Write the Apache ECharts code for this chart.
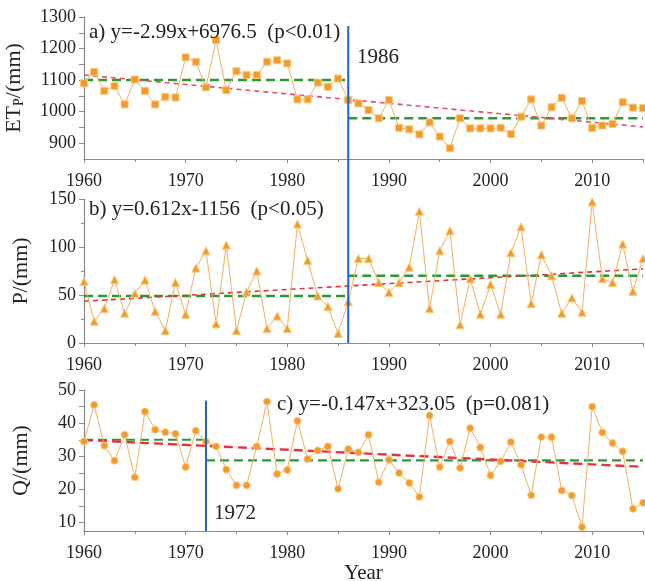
<!DOCTYPE html>
<html>
<head>
<meta charset="utf-8">
<script src="https://cdn.jsdelivr.net/npm/echarts@6/dist/echarts.min.js"></script>
<style>
html, body { margin: 0; padding: 0; background: #fff; }
#main { width: 645px; height: 581px; }
</style>
</head>
<body>
<div id="main"></div>
<script>
// years
var years = [1960,1961,1962,1963,1964,1965,1966,1967,1968,1969,
             1970,1971,1972,1973,1974,1975,1976,1977,1978,1979,
             1980,1981,1982,1983,1984,1985,1986,1987,1988,1989,
             1990,1991,1992,1993,1994,1995,1996,1997,1998,1999,
             2000,2001,2002,2003,2004,2005,2006,2007,2008,2009,
             2010,2011,2012,2013,2014,2015];

// a) ETp
var etp = [1090,1126,1066,1081,1023,1102,1066,1023,1047,1045,
           1172,1158,1077,1227,1068,1128,1116,1116,1158,1163,
           1153,1039,1039,1092,1079,1105,1037,1026,1005,979,
           1037,949,944,928,966,921,884,979,947,947,
           947,949,929,984,1039,956,1014,1044,979,1034,
           948,956,961,1030,1013,1011];
// b) P
var prec = [64,22.6,36,66,31,51.5,65.5,33,13,63,
            30,78,96,20,102,13,53,75,15,28,
            15,124,86,49,38,10,43,88,88,63,
            52.6,63,79,137,36,96,117,19,67,30,
            61,30,94,121,41,92,70,31,47,32,
            147,67,63,103,54,88];
// c) Q
var runoff = [34.5,45.5,33.2,28.7,36.5,23.7,43.5,38,37.3,36.8,
              26.8,37.7,34.5,33,26,21.3,21.3,33,46.5,24.7,
              25.9,40.7,29.2,31.8,33,20.2,32.2,31.2,36.5,22.2,
              29,25,22,17.8,42.3,26.8,34.5,26.5,38.5,32.7,
              24.3,28.5,34.3,27.5,18.3,35.8,35.8,19.7,18.2,8.7,
              45,37.2,34,31.5,14.2,16];

// change points and sub-period means
var breakA = 1986, meanA = [1100, 979];
var breakB = 1986, meanB = [49, 70];
var breakC = 1972, meanC = [35, 28.8];
// linear trends [slope, intercept]
var trendA = [-2.99, 6976.5];
var trendB = [0.612, -1156];
var trendC = [-0.147, 323.05];
var blueC = [7.5, 46.8];

var xFrom = 1960, xTo = 2015;
var fontF = "Liberation Serif";

function pairs(ys) {
    var out = [];
    for (var i = 0; i < years.length; i++) out.push([years[i], ys[i]]);
    return out;
}
function trendLine(t) {
    return [[xFrom, t[0] * xFrom + t[1]], [xTo, t[0] * xTo + t[1]]];
}
function meanLine(br, m) {
    return [[xFrom, m[0]], [br, m[0]], [br, null], [br, m[1]], [xTo, m[1]]];
}
function plain(v) { return String(v); }

var axisColor = '#8a8a8a';
function xAx(idx, showName) {
    return {
        type: 'value', gridIndex: idx, min: xFrom, max: xTo, interval: 10,
        axisLine: { lineStyle: { color: axisColor, width: 1.2 } },
        axisTick: { length: 4, lineStyle: { color: axisColor } },
        minorTick: { show: true, splitNumber: 2, length: 3, lineStyle: { color: axisColor } },
        splitLine: { show: false },
        axisLabel: { showMaxLabel: false, margin: 13, color: '#222', fontSize: 18, fontFamily: fontF, formatter: plain },
        name: showName ? 'Year' : '', nameLocation: 'middle', nameGap: 31,
        nameTextStyle: { color: '#222', fontSize: 21, fontFamily: fontF }
    };
}
function yAx(idx, cfg) {
    var o = {
        type: 'value', gridIndex: idx, min: cfg.min, max: cfg.max,
        axisLine: { show: true, lineStyle: { color: axisColor, width: 1.2 } },
        axisTick: { show: true, length: 5, lineStyle: { color: axisColor } },
        splitLine: { show: false },
        axisLabel: { margin: 8, color: '#222', fontSize: 18, fontFamily: fontF, formatter: plain },
        name: cfg.name, nameLocation: 'middle', nameRotate: 90, nameGap: cfg.gap,
        nameTextStyle: { color: '#222', fontSize: 22, fontFamily: fontF, rich: cfg.rich || {} }
    };
    if (cfg.labels) {
        o.axisLabel.customValues = cfg.labels;
        o.axisTick.customValues = cfg.ticks;
    } else {
        o.interval = cfg.interval;
        o.minorTick = { show: true, splitNumber: 2, length: 3, lineStyle: { color: axisColor } };
    }
    return o;
}

var orange = '#f39a2c';
function dataSeries(idx, ys, symbol, size) {
    return {
        type: 'line', xAxisIndex: idx, yAxisIndex: idx, data: pairs(ys),
        symbol: symbol, symbolSize: size, clip: false,
        lineStyle: { color: '#f4b060', width: 1 },
        itemStyle: { color: orange, borderColor: '#fbc97a', borderWidth: 1 },
        z: 3
    };
}
function dashSeries(idx, data, color, width, dash, z) {
    return {
        type: 'line', xAxisIndex: idx, yAxisIndex: idx, data: data,
        symbol: 'none', connectNulls: false,
        lineStyle: { color: color, width: width, type: dash },
        z: z
    };
}
var green = '#2b9a33', red = '#e8313f', blue = '#1f63c4';

var myChart = echarts.init(document.getElementById('main'));
var option = {
    backgroundColor: '#fff',
    animation: false,
    textStyle: { fontFamily: fontF },
    grid: [
        { left: 84, right: 2, top: 17, height: 142, outerBoundsMode: 'none' },
        { left: 84, right: 2, top: 199, height: 144, outerBoundsMode: 'none' },
        { left: 84, right: 2, top: 390, height: 141, outerBoundsMode: 'none' },
        { left: 84, right: 2, top: 26, height: 317, outerBoundsMode: 'none' }
    ],
    xAxis: [
        xAx(0, false), xAx(1, false), xAx(2, true),
        { type: 'value', gridIndex: 3, min: xFrom, max: xTo, show: false }
    ],
    yAxis: [
        yAx(0, { min: 850, max: 1300, labels: [900, 1000, 1100, 1200, 1300],
                 ticks: [900, 950, 1000, 1050, 1100, 1150, 1200, 1250, 1300],
                 name: '{n|ET}{s|P}{n|/(mm)}', gap: 58,
                 rich: { n: { fontSize: 22, fontFamily: fontF, color: '#222' },
                         s: { fontSize: 14, fontFamily: fontF, color: '#222', padding: [10, 0, 0, 0] } } }),
        yAx(1, { min: 0, max: 150, interval: 50, name: 'P/(mm)', gap: 52 }),
        yAx(2, { min: 7.5, max: 50, labels: [10, 20, 30, 40, 50],
                 ticks: [10, 15, 20, 25, 30, 35, 40, 45, 50], name: 'Q/(mm)', gap: 52 }),
        { type: 'value', gridIndex: 3, min: 0, max: 1, show: false }
    ],
    series: [
        dashSeries(0, meanLine(breakA, meanA), green, 2.5, [9, 5], 2),
        dashSeries(0, trendLine(trendA), '#e0506a', 1.6, [5, 4], 2),
        dataSeries(0, etp, 'rect', 7),

        dashSeries(1, meanLine(breakB, meanB), green, 2.5, [9, 5], 2),
        dashSeries(1, trendLine(trendB), red, 1.6, [5, 4], 2),
        dataSeries(1, prec, 'triangle', 8),

        dashSeries(2, meanLine(breakC, meanC), green, 2.2, [9, 5], 2),
        dashSeries(2, trendLine(trendC), red, 2.4, [9, 5], 2),
        dataSeries(2, runoff, 'circle', 7),
        dashSeries(2, [[breakC, blueC[0]], [breakC, blueC[1]]], blue, 2, 'solid', 4),

        dashSeries(3, [[breakA, 0], [breakA, 1]], blue, 2, 'solid', 4)
    ],
    graphic: [
        { type: 'text', x: 89, y: 32, style: { text: 'a) y=-2.99x+6976.5  (p<0.01)', fontSize: 21, fontFamily: fontF, fill: '#222', verticalAlign: 'middle' }, z: 10 },
        { type: 'text', x: 357, y: 57, style: { text: '1986', fontSize: 21, fontFamily: fontF, fill: '#222', verticalAlign: 'middle' }, z: 10 },
        { type: 'text', x: 89, y: 209, style: { text: 'b) y=0.612x-1156  (p<0.05)', fontSize: 21, fontFamily: fontF, fill: '#222', verticalAlign: 'middle' }, z: 10 },
        { type: 'text', x: 277, y: 404, style: { text: 'c) y=-0.147x+323.05  (p=0.081)', fontSize: 21, fontFamily: fontF, fill: '#222', verticalAlign: 'middle' }, z: 10 },
        { type: 'text', x: 214, y: 513, style: { text: '1972', fontSize: 21, fontFamily: fontF, fill: '#222', verticalAlign: 'middle' }, z: 10 }
    ]
};
myChart.setOption(option);

window.onresize = function () {
    myChart.resize();
};
</script>
</body>
</html>
